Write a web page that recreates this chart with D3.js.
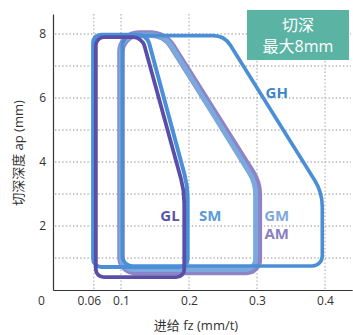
<!DOCTYPE html>
<html><head><meta charset="utf-8">
<script src="https://cdn.jsdelivr.net/npm/d3@7"></script>
<style>
html,body{margin:0;padding:0;background:#fff;}
svg{display:block;font-family:"Open Sans","Noto Sans","Noto Sans CJK SC",sans-serif;}
</style></head>
<body>
<svg id="chart" width="353" height="335"></svg>
<script>
// ---- data ----
const fzTicks = [0, 0.06, 0.1, 0.2, 0.3, 0.4];
const fzTickLabels = ["0", "0.06", "0.1", "0.2", "0.3", "0.4"];
const apTicks = [2, 4, 6, 8];
const apGrid = [1, 2, 3, 4, 5, 6, 7, 8];
const xTitle = "进给 fz (mm/t)";
const yTitle = "切深深度 ap (mm)";
const noteLines = ["切深", "最大8mm"];

const seriesNames = ["AM", "GM", "GH", "SM", "GL"];
const seriesColors = ["#8d83c5", "#7ba8dd", "#4a8ed6", "#4a8fd8", "#5a4fa8"];
// polygon vertices (fz, ap) per grade
const amFz = [0.1, 0.1, 0.164, 0.302, 0.302];
const amAp = [0.58, 8.0, 8.0, 3.35, 0.58];
const gmFz = [0.1, 0.1, 0.164, 0.298, 0.298];
const gmAp = [0.64, 7.97, 7.97, 3.35, 0.64];
const ghFz = [0.102, 0.102, 0.252, 0.396, 0.396];
const ghAp = [0.75, 7.95, 7.95, 3.05, 0.75];
const smFz = [0.059, 0.059, 0.138, 0.198, 0.198];
const smAp = [0.72, 7.98, 7.98, 3.25, 0.72];
const glFz = [0.063, 0.063, 0.131, 0.193, 0.193];
const glAp = [0.4, 7.9, 7.9, 3.1, 0.4];

const labelNames = ["GL", "SM", "GM", "AM", "GH"];
const labelFz = [0.172, 0.231, 0.329, 0.329, 0.329];
const labelAp = [2.35, 2.35, 2.35, 1.78, 6.2];
const labelColors = ["#5b55a5", "#5b9bd8", "#7fa9dc", "#8a7fc0", "#3c86c8"];

// ---- layout ----
const svg = d3.select("#chart");
const x = d3.scaleLinear().domain([0, 0.44]).range([53, 352.2]);
const y = d3.scaleLinear().domain([0, 8.625]).range([290, 14]);

// grid
const gridColor = "#b4b4b4";
svg.append("g").selectAll("line").data(apGrid).join("line")
  .attr("x1", x(0) + 2).attr("x2", 351)
  .attr("y1", d => y(d)).attr("y2", d => y(d))
  .attr("stroke", gridColor).attr("stroke-width", 1.3)
  .attr("stroke-dasharray", "1.4,2.2");
svg.append("g").selectAll("line").data(fzTicks.filter(d => d > 0)).join("line")
  .attr("x1", d => x(d)).attr("x2", d => x(d))
  .attr("y1", y(8.625)).attr("y2", y(0))
  .attr("stroke", gridColor).attr("stroke-width", 1.3)
  .attr("stroke-dasharray", "1.4,2.2");

// axes
const xAxis = d3.axisBottom(x).tickValues(fzTicks)
  .tickFormat((d, i) => fzTickLabels[i]).tickSize(0).tickPadding(6);
const gx = svg.append("g").attr("transform", `translate(0,${y(0)})`).call(xAxis);
gx.select(".domain").attr("stroke", "#333").attr("stroke-width", 1.2);
gx.selectAll("text").attr("font-size", 12).attr("fill", "#333")
  .attr("font-family", '"Open Sans","Noto Sans",sans-serif')
  .attr("dx", (d) => d === 0 ? -12 : (d === 0.06 ? -5 : 0));

const yAxis = d3.axisLeft(y).tickValues(apTicks).tickSize(0).tickPadding(7);
const gy = svg.append("g").attr("transform", `translate(${x(0)},0)`).call(yAxis);
gy.select(".domain").attr("stroke", "#333").attr("stroke-width", 1.2);
gy.selectAll("text").attr("font-size", 12).attr("fill", "#333")
  .attr("font-family", '"Open Sans","Noto Sans",sans-serif');

// titles
svg.append("text").attr("x", 196).attr("y", 330).attr("text-anchor", "middle")
  .attr("font-size", 13).attr("fill", "#333").text(xTitle);
svg.append("text").attr("transform", "translate(23,153) rotate(-90)")
  .attr("text-anchor", "middle").attr("font-size", 13).attr("fill", "#333").text(yTitle);

// rounded polygon builder
function roundedPath(fz, ap, radii) {
  const pts = fz.map((f, i) => [x(f), y(ap[i])]);
  const n = pts.length;
  const p = d3.path();
  const m = [(pts[0][0] + pts[1][0]) / 2, (pts[0][1] + pts[1][1]) / 2];
  p.moveTo(m[0], m[1]);
  for (let k = 1; k <= n; k++) {
    const c = pts[k % n], nx = pts[(k + 1) % n];
    p.arcTo(c[0], c[1], nx[0], nx[1], radii[k % n]);
  }
  p.closePath();
  return p.toString();
}

const shapes = [
  {fz: amFz, ap: amAp, color: seriesColors[0], w: 7.5, r: [14, 18, 26, 40, 12]},
  {fz: gmFz, ap: gmAp, color: seriesColors[1], w: 5, r: [12, 16, 24, 40, 10]},
  {fz: ghFz, ap: ghAp, color: seriesColors[2], w: 3.6, r: [10, 10, 20, 50, 10]},
  {fz: smFz, ap: smAp, color: seriesColors[3], w: 4, r: [8, 8, 12, 90, 8]},
  {fz: glFz, ap: glAp, color: seriesColors[4], w: 3.8, r: [8, 8, 12, 90, 8]}
];
svg.append("g").selectAll("path").data(shapes).join("path")
  .attr("d", d => roundedPath(d.fz, d.ap, d.r))
  .attr("fill", "none").attr("stroke", d => d.color)
  .attr("stroke-width", d => d.w).attr("stroke-linejoin", "round");

// grade labels
svg.append("g").selectAll("text").data(labelNames).join("text")
  .attr("x", (d, i) => x(labelFz[i])).attr("y", (d, i) => y(labelAp[i]))
  .attr("text-anchor", "middle").attr("dominant-baseline", "central")
  .attr("font-size", 15).attr("font-weight", "bold")
  .attr("font-family", '"Open Sans","Noto Sans",sans-serif')
  .attr("fill", (d, i) => labelColors[i]).text(d => d);

// note box
svg.append("rect").attr("x", 247).attr("y", 10).attr("width", 102).attr("height", 50)
  .attr("fill", "#5bb3a4");
svg.append("g").selectAll("text").data(noteLines).join("text")
  .attr("x", 298).attr("y", (d, i) => 25 + i * 21)
  .attr("text-anchor", "middle").attr("dominant-baseline", "central")
  .attr("font-size", 16).attr("fill", "#fff").text(d => d);
</script>
</body></html>
